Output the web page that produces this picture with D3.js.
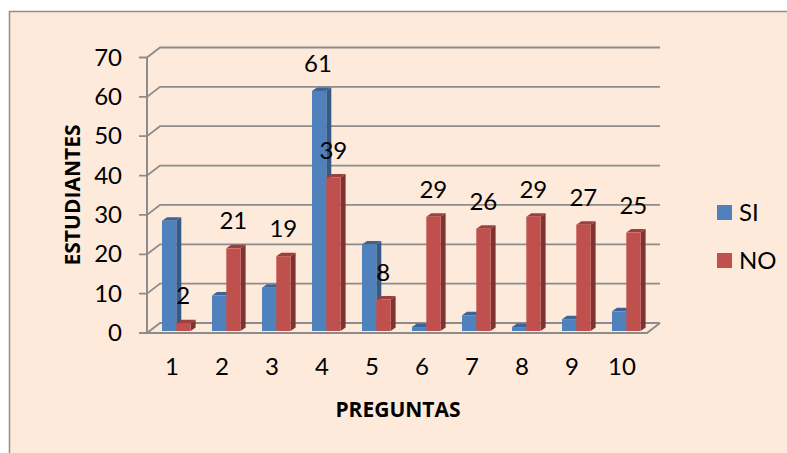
<!DOCTYPE html>
<html>
<head>
<meta charset="utf-8">
<script src="https://cdn.jsdelivr.net/npm/d3@7"></script>
<style>
  body { margin: 0; background: #fff; }
  svg { display: block; font-family: Lato, "Open Sans", "Noto Sans", sans-serif; }
  text { fill: #000; }
  .title { font-family: "Open Sans", "Noto Sans", sans-serif; font-weight: bold; font-size: 21px; }
</style>
</head>
<body>
<svg id="chart" width="787" height="453"></svg>
<script>
var preguntas = ['1', '2', '3', '4', '5', '6', '7', '8', '9', '10'];
var si = [28, 9, 11, 61, 22, 1, 4, 1, 3, 5];
var no = [2, 21, 19, 39, 8, 29, 26, 29, 27, 25];
var yTicks = [0, 10, 20, 30, 40, 50, 60, 70];

var svg = d3.select('#chart');
var dx = 13, dy = -10;   // depth of the 3d back wall
var barDx = 5, barDy = -3.5;
var grey = '#8c8c8c';

var x = d3.scaleBand().domain(preguntas).range([147, 647]);
var y = d3.scaleLinear().domain([0, 70]).range([333, 57.5]);
// bars stand a little behind the front edge of the floor
var yBar = d3.scaleLinear().domain([0, 70]).range([331, 55.5]);

// frame
svg.append('rect').attr('x', 9.5).attr('y', 11.5).attr('width', 800).attr('height', 460)
  .attr('fill', '#fdeadb').attr('stroke', '#8e8e8e').attr('stroke-width', 1.5);

// walls and gridlines
yTicks.forEach(function (t) {
  svg.append('path')
    .attr('d', d3.line()([[139, y(t)], [147, y(t)], [147 + dx, y(t) + dy], [647 + dx, y(t) + dy]]))
    .attr('fill', 'none').attr('stroke', grey).attr('stroke-width', 1.8);
});
svg.append('line').attr('x1', 147).attr('x2', 147).attr('y1', y(70)).attr('y2', y(0))
  .attr('stroke', grey).attr('stroke-width', 2);
svg.append('path')
  .attr('d', d3.line()([[147, y(0)], [647, y(0)], [647 + dx, y(0) + dy]]))
  .attr('fill', 'none').attr('stroke', grey).attr('stroke-width', 2);

// 3d bar: front, top, side
function bar(x0, w, v, front, top, side) {
  var y0 = yBar(v), base = yBar(0);
  var g = svg.append('g');
  g.append('path').attr('fill', side)
    .attr('d', d3.line()([[x0 + w, y0], [x0 + w + barDx, y0 + barDy], [x0 + w + barDx, base + barDy], [x0 + w, base]]) + 'Z');
  g.append('path').attr('fill', top)
    .attr('d', d3.line()([[x0, y0], [x0 + barDx, y0 + barDy], [x0 + w + barDx, y0 + barDy], [x0 + w, y0]]) + 'Z');
  g.append('rect').attr('x', x0).attr('y', y0).attr('width', w).attr('height', base - y0).attr('fill', front);
}

var w = 14.3;
preguntas.forEach(function (p, i) {
  var left = x(p) + 15;
  bar(left, w, si[i], '#4f81bd', '#3c6596', '#345a88');
  bar(left + w, w, no[i], '#c0504d', '#9d3f3c', '#7f3230');
});

// data labels sit above each bar
var labelFont = 24;
preguntas.forEach(function (p, i) {
  var left = x(p) + 15;
  // the only SI value labelled in the original is the tallest bar
  if (si[i] === 61) {
    svg.append('text').attr('x', left + 6).attr('y', yBar(si[i]) - 19)
      .attr('text-anchor', 'middle').attr('font-size', labelFont).text(si[i]);
  }
  svg.append('text').attr('x', left + w + 7).attr('y', yBar(no[i]) - 19)
    .attr('text-anchor', 'middle').attr('font-size', labelFont).text(no[i]);
});

// axis labels
yTicks.forEach(function (t) {
  svg.append('text').attr('x', 122).attr('y', y(t) + 8)
    .attr('text-anchor', 'end').attr('font-size', 24).text(t);
});
preguntas.forEach(function (p) {
  svg.append('text').attr('x', x(p) + x.bandwidth() / 2).attr('y', 375)
    .attr('text-anchor', 'middle').attr('font-size', 24).text(p);
});

svg.append('text').attr('class', 'title').attr('x', 398).attr('y', 417).attr('text-anchor', 'middle')
  .text('PREGUNTAS');
svg.append('text').attr('class', 'title').attr('transform', 'translate(80,195) rotate(-90)').attr('text-anchor', 'middle')
  .text('ESTUDIANTES');

// legend
var series = ['SI', 'NO'];
var seriesColor = ['#4f81bd', '#c0504d'];
series.forEach(function (s, i) {
  svg.append('rect').attr('x', 717).attr('y', 205 + i * 48).attr('width', 15).attr('height', 15).attr('fill', seriesColor[i]);
  svg.append('text').attr('x', 739).attr('y', 221 + i * 48).attr('font-size', 24).text(s);
});
</script>
</body>
</html>
